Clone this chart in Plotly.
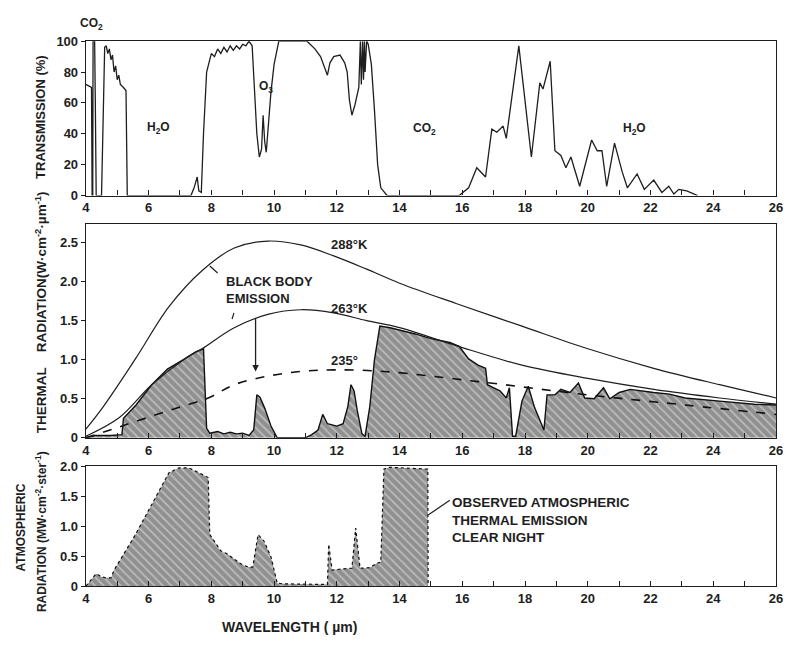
import plotly.graph_objects as go

FONT = "Liberation Sans, Arial, sans-serif"
INK = "#1e1e1e"

# ---------------- atmospheric transmission (%) ----------------
trans_wl = [4.0, 4.1, 4.18, 4.2, 4.22, 4.23, 4.28, 4.3, 4.33, 4.5, 4.6, 4.65, 4.7, 4.75,
            4.8, 4.85, 4.9, 4.95, 5.0, 5.05, 5.1, 5.2, 5.28, 5.32, 7.35, 7.45, 7.55,
            7.6, 7.68, 7.75, 7.85, 7.95, 8.0, 8.1, 8.2, 8.3, 8.4, 8.5, 8.6, 8.7, 8.8,
            8.9, 9.0, 9.1, 9.2, 9.3, 9.38, 9.45, 9.53, 9.6, 9.65, 9.7, 9.75, 9.82,
            9.9, 10.0, 10.15, 11.05, 11.3, 11.48, 11.62, 11.7, 11.78, 11.9, 12.1,
            12.25, 12.33, 12.4, 12.48, 12.58, 12.7, 12.75, 12.78, 12.82, 12.85,
            12.88, 12.9, 12.95, 13.0, 13.1, 13.2, 13.3, 13.4, 13.6, 15.9, 16.2,
            16.46, 16.74, 16.94, 17.1, 17.3, 17.4, 17.8, 18.2, 18.47, 18.57, 18.8,
            18.95, 19.14, 19.3, 19.46, 19.74, 20.12, 20.3, 20.45, 20.6, 20.85, 21.1,
            21.26, 21.57, 21.8, 22.1, 22.36, 22.58, 22.74, 22.9, 23.15, 23.5]
trans_pct = [72, 71, 70, 0, 0, 100, 100, 65, 0, 0, 96, 97, 92, 95,
             88, 91, 80, 84, 75, 78, 72, 70, 68, 0, 0, 5, 12,
             3, 2, 40, 80, 88, 92, 90, 95, 92, 96, 93, 97, 94, 97,
             95, 98, 97, 100, 97, 70, 40, 25, 30, 52, 35, 28, 45,
             67, 85, 100, 100, 95, 90, 83, 78, 86, 90, 91,
             86, 80, 62, 52, 59, 70, 100, 72, 100, 75,
             100, 80, 100, 98, 85, 55, 20, 5, 0, 0, 5,
             18, 12, 43, 41, 45, 37, 97, 25, 73, 69, 87,
             29, 26, 18, 25, 6, 36, 29, 29, 6, 34, 15,
             5, 14, 4, 10, 2, 6, 1, 4, 3, 0]

# ---------------- black body curves (W cm^-2 um^-1) ----------------
bb288_wl = [4.0, 4.54, 5.58, 6.65, 7.7, 8.73, 9.8, 10.85, 11.9, 12.95, 14.0, 15.8, 17.9, 20.0, 22.1, 24.2, 26.0]
bb288 = [0.11, 0.39, 1.01, 1.68, 2.14, 2.43, 2.52, 2.47, 2.33, 2.16, 1.98, 1.72, 1.43, 1.14, 0.89, 0.68, 0.51]

bb263_wl = [4.0, 5.07, 6.1, 7.15, 7.7, 8.73, 9.8, 10.85, 11.9, 12.95, 14.0, 15.8, 17.9, 20.0, 22.1, 24.2, 26.0]
bb263 = [0.02, 0.26, 0.68, 1.01, 1.14, 1.41, 1.58, 1.64, 1.6, 1.5, 1.41, 1.18, 0.93, 0.76, 0.62, 0.51, 0.43]

bb235_wl = [4.0, 5.07, 6.65, 7.9, 8.73, 9.8, 10.85, 11.9, 13.5, 16.5, 20.0, 23.1, 26.0]
bb235 = [0.0, 0.14, 0.35, 0.51, 0.68, 0.79, 0.85, 0.87, 0.85, 0.72, 0.55, 0.42, 0.3]

# ---------------- emission reaching the ground ----------------
emis_wl = [4.0, 4.3, 4.8, 5.15, 5.2, 5.6, 6.1, 6.6, 7.15, 7.5, 7.75, 7.8, 7.85, 7.95,
           8.2, 8.4, 8.6, 8.8, 9.0, 9.2, 9.35, 9.45, 9.55, 9.7, 9.9, 10.1, 11.0, 11.2,
           11.4, 11.55, 11.7, 12.0, 12.2, 12.35, 12.45, 12.55, 12.65, 12.8, 12.9,
           13.05, 13.2, 13.37, 13.7, 14.5, 15.0, 15.6, 15.9, 16.2, 16.5, 16.74, 16.8,
           17.0, 17.2, 17.4, 17.5, 17.6, 17.7, 17.9, 18.1, 18.3, 18.47, 18.6, 18.7,
           18.95, 19.14, 19.43, 19.7, 19.9, 20.2, 20.5, 20.7, 21.0, 21.35, 21.66,
           22.1, 22.6, 23.1, 24.2, 25.3, 26.0]
emis_val = [0.0, 0.03, 0.03, 0.04, 0.25, 0.42, 0.68, 0.88, 1.01, 1.1, 1.14, 0.6, 0.12, 0.06,
            0.08, 0.05, 0.07, 0.05, 0.06, 0.03, 0.1, 0.55, 0.52, 0.38, 0.15, 0.0, 0.0, 0.04,
            0.1, 0.3, 0.18, 0.15, 0.18, 0.4, 0.68, 0.6, 0.35, 0.05, 0.02,
            0.4, 1.0, 1.43, 1.41, 1.33, 1.27, 1.22, 1.17, 1.01, 0.93, 0.89, 0.68,
            0.64, 0.6, 0.51, 0.64, 0.02, 0.02, 0.47, 0.66, 0.39, 0.22, 0.1, 0.55,
            0.55, 0.62, 0.58, 0.7, 0.51, 0.5, 0.64, 0.5, 0.58, 0.62, 0.6,
            0.58, 0.56, 0.51, 0.47, 0.43, 0.42]

# ---------------- observed clear-night sky radiance ----------------
obs_wl = [4.0, 4.17, 4.33, 4.49, 4.63, 4.8, 4.9, 5.58, 6.33, 6.65, 6.97, 7.28, 7.6, 7.9,
          7.95, 8.1, 8.3, 8.5, 8.7, 8.95, 9.17, 9.32, 9.49, 9.68, 9.9, 10.1, 10.3, 11.0,
          11.7, 11.74, 11.85, 12.2, 12.48, 12.6, 12.74, 13.05, 13.26, 13.4, 13.5, 13.68,
          14.7, 14.9, 14.91]
obs_val = [0.0, 0.1, 0.21, 0.16, 0.14, 0.14, 0.27, 0.86, 1.57, 1.89, 1.97, 1.97, 1.89, 1.81,
           0.86, 0.75, 0.59, 0.54, 0.46, 0.37, 0.32, 0.32, 0.86, 0.75, 0.49, 0.05, 0.04, 0.03,
           0.03, 0.7, 0.27, 0.29, 0.3, 0.97, 0.3, 0.31, 0.38, 0.4, 1.95, 1.98,
           1.95, 1.95, 0.0]

x_ticks = list(range(4, 27, 2))

W, H = 790, 648
L, R = 83, 783


def py(p):
    """pixel row -> paper fraction"""
    return 1 - p / H


def px(p):
    return p / W


hatch = dict(shape="\\", size=6, solidity=0.3, fgcolor="#e8e8e8", bgcolor="#909090")

fig = go.Figure()

# top: transmission
fig.add_trace(go.Scatter(x=trans_wl, y=trans_pct, mode="lines",
                         line=dict(color=INK, width=1.3), xaxis="x", yaxis="y"))

# middle: emission + black body curves
fig.add_trace(go.Scatter(x=emis_wl, y=emis_val, mode="lines", fill="tozeroy",
                         fillpattern=hatch, fillcolor="#909090",
                         line=dict(color="#111", width=1.4), xaxis="x2", yaxis="y2"))
fig.add_trace(go.Scatter(x=bb288_wl, y=bb288, mode="lines", line_shape="spline",
                         line=dict(color=INK, width=1.2), xaxis="x2", yaxis="y2"))
fig.add_trace(go.Scatter(x=bb263_wl, y=bb263, mode="lines", line_shape="spline",
                         line=dict(color=INK, width=1.2), xaxis="x2", yaxis="y2"))
fig.add_trace(go.Scatter(x=bb235_wl, y=bb235, mode="lines", line_shape="spline",
                         line=dict(color="#111", width=1.6, dash="dash"), xaxis="x2", yaxis="y2"))

# bottom: observed sky radiance
fig.add_trace(go.Scatter(x=obs_wl, y=obs_val, mode="lines", fill="tozeroy",
                         fillpattern=hatch, fillcolor="#909090",
                         line=dict(color="#111", width=1.2, dash="dot"), xaxis="x3", yaxis="y3"))

tickfont = dict(family=FONT, size=13, color=INK, weight="bold")
xcommon = dict(range=[4, 26], tickvals=x_ticks, ticks="inside", ticklen=5, tickwidth=1,
               tickcolor=INK, showline=True, linecolor=INK, linewidth=1.3, mirror=True,
               showgrid=False, zeroline=False, tickfont=tickfont, ticklabeloverflow="allow",
               minor=dict(dtick=1, tick0=4, ticks="inside", ticklen=5, tickcolor=INK),
               domain=[px(L), px(R)])
ycommon = dict(ticks="outside", ticklen=4, tickcolor=INK, showline=True, linecolor=INK,
               linewidth=1.3, mirror=True, showgrid=False, zeroline=False, tickfont=tickfont)

fig.update_layout(
    width=W, height=H, margin=dict(l=0, r=0, t=0, b=0),
    paper_bgcolor="white", plot_bgcolor="white", showlegend=False,
    font=dict(family=FONT, color=INK),
    xaxis=dict(**xcommon, anchor="y"),
    yaxis=dict(**ycommon, range=[0, 100], tickvals=[0, 20, 40, 60, 80, 100],
               domain=[py(193), py(35)], anchor="x"),
    xaxis2=dict(**xcommon, anchor="y2"),
    yaxis2=dict(**ycommon, range=[0, 2.74], tickvals=[0, 0.5, 1.0, 1.5, 2.0, 2.5],
                ticktext=["0", "0.5", "1.0", "1.5", "2.0", "2.5"],
                domain=[py(441), py(222)], anchor="x2"),
    xaxis3=dict(**xcommon, anchor="y3"),
    yaxis3=dict(**ycommon, range=[0, 2.0], tickvals=[0, 0.5, 1.0, 1.5, 2.0],
                ticktext=["0", "0.5", "1.0", "1.5", "2.0"],
                domain=[py(593), py(470)], anchor="x3"),
)

lab = dict(family=FONT, size=12, color=INK, weight="bold")


def note(text, x, y, xref, yref, xanchor="center", yanchor="middle", size=12, **kw):
    fig.add_annotation(text=text, x=x, y=y, xref=xref, yref=yref, showarrow=False,
                       xanchor=xanchor, yanchor=yanchor,
                       font=dict(lab, size=size), **kw)


# gas labels in the transmission panel
note("CO<sub>2</sub>", px(89), py(17), "paper", "paper")
note("H<sub>2</sub>O", 6.33, 44, "x", "y")
note("O<sub>3</sub>", 9.75, 70, "x", "y")
note("CO<sub>2</sub>", 14.8, 43, "x", "y")
note("H<sub>2</sub>O", 21.5, 43, "x", "y")

# black body labels
note("288°K", 12.4, 2.47, "x2", "y2", size=13)
note("263°K", 12.4, 1.66, "x2", "y2", size=13)
note("235°", 12.25, 0.99, "x2", "y2", size=13)
note("BLACK BODY<br>EMISSION", 8.4, 1.89, "x2", "y2", xanchor="left", align="left", size=13)
fig.add_shape(type="line", x0=8.2, y0=2.11, x1=7.95, y1=2.2, xref="x2", yref="y2",
              line=dict(color=INK, width=1.2))
fig.add_shape(type="line", x0=8.66, y0=1.52, x1=8.72, y1=1.6, xref="x2", yref="y2",
              line=dict(color=INK, width=1.2))
fig.add_annotation(x=9.41, y=0.85, ax=9.41, ay=1.55, xref="x2", yref="y2",
                   axref="x2", ayref="y2", text="", showarrow=True, arrowhead=2,
                   arrowsize=1, arrowwidth=1.3, arrowcolor=INK)

# observed emission label
note("OBSERVED ATMOSPHERIC<br>THERMAL EMISSION<br>CLEAR NIGHT", 15.6, 1.1, "x3", "y3",
     xanchor="left", align="left", size=13.5)
fig.add_shape(type="line", x0=15.6, y0=1.43, x1=14.92, y1=1.19, xref="x3", yref="y3",
              line=dict(color=INK, width=1.2))

# axis titles
note("WAVELENGTH ( µm)", px(290), py(635), "paper", "paper", size=14)
note("TRANSMISSION (%)", px(37), py(112), "paper", "paper", textangle=-90, size=13)
note("THERMAL\u00a0\u00a0\u00a0\u00a0RADIATION(W·cm<sup>-2</sup>·µm<sup>-1</sup>)",
     px(37), py(312), "paper", "paper", textangle=-90, size=13.5)
note("RADIATION (MW·cm<sup>-2</sup>·ster<sup>-1</sup>)", px(37), py(537),
     "paper", "paper", textangle=-90)
note("ATMOSPHERIC", px(17), py(533), "paper", "paper", textangle=-90)

fig.write_html("out.html")
